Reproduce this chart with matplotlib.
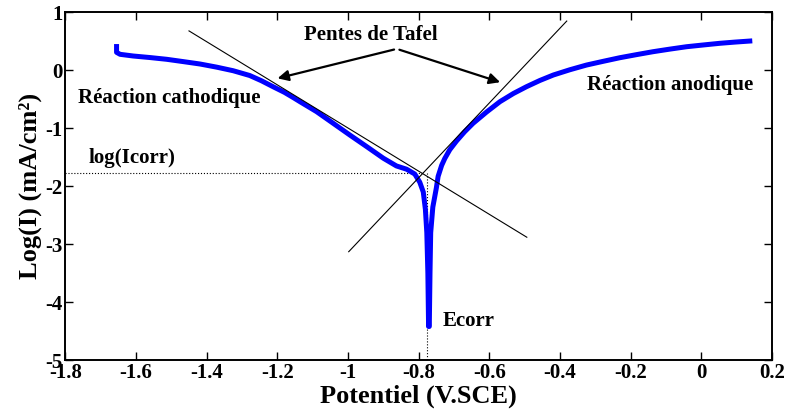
import matplotlib
matplotlib.use("Agg")
import matplotlib.pyplot as plt

plt.rcParams["font.family"] = ["Liberation Serif", "DejaVu Serif"]
plt.rcParams["font.weight"] = "bold"
plt.rcParams["axes.unicode_minus"] = False

# courbe de polarisation : branche cathodique (jusqu'à Ecorr)
pot_cath = [-1.655, -1.655, -1.645, -1.608, -1.560, -1.513, -1.466, -1.419, -1.372,
            -1.325, -1.278, -1.245, -1.212, -1.180, -1.155, -1.136, -1.089, -1.042,
            -0.995, -0.947, -0.900, -0.863, -0.834, -0.811, -0.797, -0.787, -0.781,
            -0.777, -0.774, -0.772]
logi_cath = [0.41, 0.31, 0.276, 0.247, 0.22, 0.19, 0.15, 0.109, 0.055,
             -0.007, -0.09, -0.18, -0.283, -0.38, -0.47, -0.541, -0.713, -0.914,
             -1.116, -1.317, -1.517, -1.650, -1.707, -1.79, -1.93, -2.10, -2.40,
             -2.80, -3.50, -4.42]
# branche anodique (depuis Ecorr)
pot_anod = [-0.770, -0.768, -0.766, -0.760, -0.750, -0.745, -0.735, -0.726, -0.712,
            -0.693, -0.670, -0.646, -0.608, -0.570, -0.532, -0.495, -0.457, -0.419,
            -0.372, -0.325, -0.278, -0.231, -0.184, -0.137, -0.090, -0.042, 0.005,
            0.052, 0.095, 0.137]
logi_anod = [-4.42, -3.50, -2.80, -2.36, -2.03, -1.83, -1.64, -1.52, -1.37,
             -1.22, -1.06, -0.914, -0.72, -0.541, -0.40, -0.283, -0.175, -0.081,
             0.01, 0.091, 0.155, 0.217, 0.27, 0.321, 0.365, 0.407, 0.437,
             0.466, 0.487, 0.505]

# droites de Tafel (extrémités)
tafel_cath_x = [-1.45, -0.494]
tafel_cath_y = [0.68, -2.88]
tafel_anod_x = [-0.998, -0.381]
tafel_anod_y = [-3.13, 0.85]

e_corr = -0.776
log_icorr = -1.78
e_inter = -0.789

xticks = [-1.8, -1.6, -1.4, -1.2, -1.0, -0.8, -0.6, -0.4, -0.2, 0.0, 0.2]
xtick_labels = ["-1.8", "-1.6", "-1.4", "-1.2", "-1", "-0.8", "-0.6", "-0.4", "-0.2", "0", "0.2"]
yticks = [-5, -4, -3, -2, -1, 0, 1]
ytick_labels = ["-5", "-4", "-3", "-2", "-1", "0", "1"]

fig = plt.figure(figsize=(7.87, 4.12), dpi=100)
ax = fig.add_axes([0.083, 0.126, 0.898, 0.844])

ax.plot(pot_cath + pot_anod, logi_cath + logi_anod, color="#0000ff", linewidth=3.6,
        solid_joinstyle="round", zorder=3)
ax.plot(tafel_cath_x, tafel_cath_y, color="black", linewidth=0.8, zorder=4)
ax.plot(tafel_anod_x, tafel_anod_y, color="black", linewidth=0.8, zorder=4)

# lignes pointillées Icorr / Ecorr
ax.plot([-1.8, e_inter], [log_icorr, log_icorr], color="black", linestyle=":", linewidth=0.8)
ax.plot([e_corr, e_corr], [log_icorr, -5], color="black", linestyle=":", linewidth=0.8)

# annotations
ax.text(-0.936, 0.61, "Pentes de Tafel", ha="center", va="center", fontsize=15, fontweight="bold")
for tip in [(-1.207, -0.15), (-0.562, -0.22)]:
    ax.annotate("", xy=tip, xytext=(-0.862, 0.37),
                arrowprops=dict(arrowstyle="-|>", color="black", lw=1.6, mutation_scale=16))
ax.text(-1.764, -0.564, "Réaction cathodique", ha="left", va="baseline", fontsize=15, fontweight="bold")
ax.text(-0.325, -0.34, "Réaction anodique", ha="left", va="baseline", fontsize=15, fontweight="bold")
ax.text(-1.735, -1.607, "log(Icorr)", ha="left", va="baseline", fontsize=15, fontweight="bold")
ax.text(-0.732, -4.41, "Ecorr", ha="left", va="baseline", fontsize=15, fontweight="bold")

ax.set_xlim(-1.8, 0.2)
ax.set_ylim(-5, 1)
ax.set_xticks(xticks)
ax.set_xticklabels(xtick_labels)
ax.set_yticks(yticks)
ax.set_yticklabels(ytick_labels)
ax.tick_params(direction="in", top=True, right=True, length=6, width=1,
               labelsize=15, pad=2)
for s in ax.spines.values():
    s.set_linewidth(1.4)

ax.set_xlabel("Potentiel (V.SCE)", fontsize=19, fontweight="bold", labelpad=1)
ax.set_ylabel("Log(I) (mA/cm²)", fontsize=19, fontweight="bold", labelpad=2)

fig.savefig("out.png", dpi=100)
